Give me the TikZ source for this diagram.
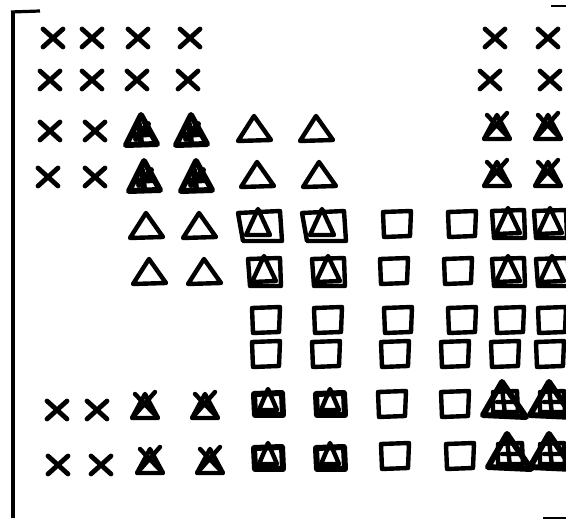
\documentclass[tikz,border=0pt]{standalone}
\begin{document}
\begin{tikzpicture}[x=1pt,y=-1pt,
  sym/.style={line width=4.4pt,line cap=round,line join=round,black},
  bold/.style={line width=6pt,line cap=round,line join=round,black},
  xm/.pic={\draw[sym,line width=4.8pt] (-10,-9)--(10,9) (-10,9)--(10,-9);},
  tri/.pic={\draw[sym] (-17,12)--(-1,-13)--(16,11)--cycle;},
  ttri/.pic={\draw[bold] (-16,15)--(-1,-15)--(15,14)--cycle;
             \draw[bold] (-9,5)--(9,4) (-3,-6)--(-1,13) (-6,9)--(6,-6);},
  sq/.pic={\draw[sym] (-14,-12)--(14,-13)--(13,12)--(-13,13)--cycle;},
  sqt/.pic={\draw[sym] (-16,-13)--(16,-14)--(17,14)--(-14,14)--cycle;
            \draw[sym] (-12,10)--(0,-16)--(12,9)--cycle;},
  sqtw/.pic={\draw[sym] (-22,-13)--(20,-15)--(22,15)--(-17,15)--cycle;
            \draw[sym] (-14,9)--(-2,-17)--(10,9)--cycle;},
  sqts/.pic={\draw[bold] (-14,-10)--(14,-11)--(15,11)--(-13,11)--cycle;
            \draw[sym] (-9,6)--(0,-15)--(9,6)--cycle;},
  xt/.pic={\draw[sym] (-13,13)--(0,-11)--(13,13)--cycle;
           \draw[sym] (-10,-11)--(12,12) (-12,12)--(10,-13);},
  bts/.pic={\draw[sym] (-12,-8)--(12,-9)--(13,12)--(-12,12)--cycle;
            \draw[bold] (-22,15)--(-3,-18)--(21,17)--cycle;
            \draw[sym] (-8,2)--(10,2) (-3,-12)--(0,14);}
]
\useasboundingbox (0,0) rectangle (566,521);
\begin{scope}
\clip (0,0) rectangle (566,521);
% bracket
\draw[line width=3.4pt] (13,12)--(13,518);
\draw[line width=3.2pt] (11,12)--(40,11);
\draw[line width=2.6pt] (551,6)--(566,6);
\draw[line width=2.8pt] (543,518)--(566,518);
% row 1
\foreach \x in {53,92,138,190,495,548} \pic at (\x,38) {xm};
% row 2
\foreach \x in {50,92,137,188,490,550} \pic at (\x,80) {xm};
% row 3
\foreach \x in {50,95} \pic at (\x,131) {xm};
\foreach \x in {142,192} \pic at (\x,130) {ttri};
\foreach \x in {255,317} \pic at (\x,129) {tri};
\foreach \x in {497,548} \pic at (\x,126) {xt};
% row 4
\foreach \x in {48,95} \pic at (\x,177) {xm};
\foreach \x in {145,197} \pic at (\x,176) {ttri};
\foreach \x in {258,320} \pic at (\x,175) {tri};
\foreach \x in {497,548} \pic at (\x,173) {xt};
% row 5
\foreach \x in {147,200} \pic at (\x,226) {tri};
\foreach \x in {260,324} \pic at (\x,226) {sqtw};
\foreach \x in {397,462} \pic at (\x,224) {sq};
\foreach \x in {508,550} \pic at (\x,224) {sqt};
% row 6
\foreach \x in {150,205} \pic at (\x,272) {tri};
\foreach \x in {264,328} \pic at (\x,272) {sqt};
\foreach \x in {394,458} \pic at (\x,271) {sq};
\foreach \x in {508,552} \pic at (\x,272) {sqt};
% row 7
\foreach \x in {266,328,398,462,510,552} \pic at (\x,320) {sq};
% row 8
\foreach \x in {266,326,395,455,505,550} \pic at (\x,354) {sq};
% row 9
\foreach \x in {57,97} \pic at (\x,410) {xm};
\foreach \x in {145,205} \pic at (\x,405) {xt};
\foreach \x in {268,330} \pic at (\x,404) {sqts};
\foreach \x in {392,455} \pic at (\x,404) {sq};
\foreach \x in {505,552} \pic at (\x,400) {bts};
% row 10
\foreach \x in {58,101} \pic at (\x,465) {xm};
\foreach \x in {150,210} \pic at (\x,460) {xt};
\foreach \x in {268,330} \pic at (\x,458) {sqts};
\foreach \x in {395,460} \pic at (\x,456) {sq};
\foreach \x in {510,552} \pic at (\x,452) {bts};
\end{scope}
\end{tikzpicture}
\end{document}
